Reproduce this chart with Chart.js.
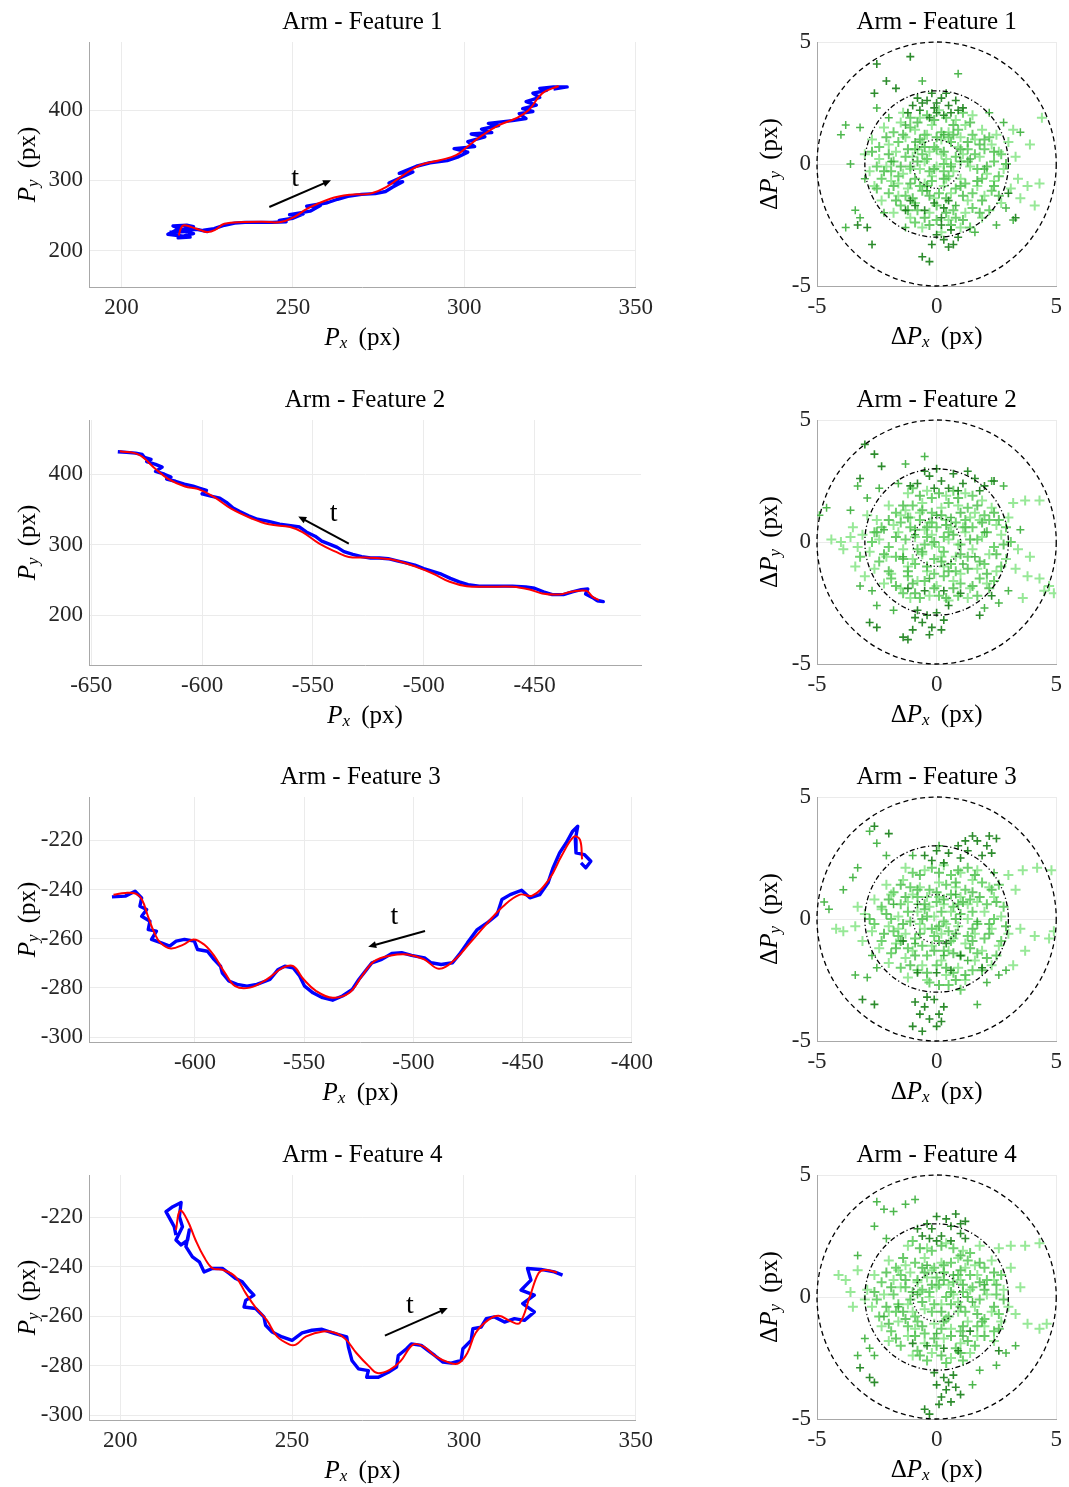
<!DOCTYPE html>
<html>
<head>
<meta charset="utf-8">
<title>Arm features - tracked trajectories</title>
<script src="https://cdn.jsdelivr.net/npm/chart.js@4.4.1/dist/chart.umd.min.js"></script>
<style>
  body { margin: 0; background: #fff; width: 1069px; height: 1487px; position: relative; overflow: hidden; }
  canvas { position: absolute; }
</style>
</head>
<body>
<canvas id="traj1" width="660" height="360" style="left:0;top:0"></canvas>
<canvas id="err1" width="329" height="360" style="left:740px;top:0"></canvas>
<canvas id="traj2" width="660" height="360" style="left:0;top:378px"></canvas>
<canvas id="err2" width="329" height="360" style="left:740px;top:378px"></canvas>
<canvas id="traj3" width="660" height="360" style="left:0;top:755px"></canvas>
<canvas id="err3" width="329" height="360" style="left:740px;top:755px"></canvas>
<canvas id="traj4" width="660" height="360" style="left:0;top:1133px"></canvas>
<canvas id="err4" width="329" height="360" style="left:740px;top:1133px"></canvas>
<script>
/* ------------------------------------------------------------
   DATA — feature tracks (raw = blue, filtered = red)
------------------------------------------------------------ */
const titles = ["Arm - Feature 1", "Arm - Feature 2", "Arm - Feature 3", "Arm - Feature 4"];

// Feature 1
const f1Raw = [[214,226],[219,227],[216,229],[213.5,223],[217,221],[220,219],[216.5,218],[219,222],[221,224],[217,231],[215,235],[219,236],[221,234],[218,230],
  [222,230],[225,227],[224,229],[227,231],[230,236],[233,239],[236,240],[240,240],[244,240],[248,241],[246,243],[250,246],[253,252],[249,251],[255,256],
  [258,264],[254,263],[260,268],[263,273],[266,277],[270,280],[274,281],[277,284],[279,290],[282,298],[278,296],[282,305],[285,312],[281,310],[286,320],
  [290,325],[295,328],[298,333],[301,340],[297,345],[303,348],[301,355],[306,362],[302,366],[308,368],[305,373],[310,378],[307,381],[314,385],[318,388],
  [316,395],[320,398],[317,402],[321,407],[318,412],[322,418],[320,424],[324,428],[322,431],[326,433],[330,433],[326,430]];
const f1Fit = [[216.7,221.4],[217.2,230],[218,235.7],[220.4,233.3],[223,229],[225.2,226.2],[227.5,230],[230,238.1],[235.8,240.5],[241,241],[246.4,240.5],
  [250.3,247.6],[254.2,259.5],[260.9,273.8],[266.7,279.5],[272.5,281],[277.3,290.5],[282.1,307.1],[287,321.4],[292.8,328.6],[297.6,335.7],[301.4,350],
  [305.3,364.3],[310.1,378.6],[315,388.1],[318.8,400],[322.7,423.8],[327.5,434.3]];
const f1XTicks = [200, 250, 300, 350];
const f1YTicks = [200, 300, 400];
const f1XRange = [190.5, 350];
const f1YRange = [148, 497];
const f1Arrow = [[243.1, 261.9], [261.1, 300]];
const f1TLabel = [250.6, 303];

// Feature 2
const f2Raw = [[-638,432],[-634,431],[-630,430],[-627,428],[-626,424],[-623,421],[-625,418],[-621,414],[-618,410],[-621,404],[-617,400],[-614,396],
  [-616,393],[-612,390],[-608,386],[-604,383],[-601,380],[-598,377],[-600,372],[-596,369],[-592,366],[-589,360],[-586,352],[-583,347],[-579,341],
  [-575,336],[-570,333],[-565,329],[-560,327],[-556,325],[-553,318],[-549,312],[-546,305],[-542,300],[-539,296],[-536,290],[-532,286],[-528,283],
  [-524,281],[-520,281],[-516,280],[-512,277],[-508,274],[-504,271],[-500,266],[-496,262],[-492,258],[-488,252],[-484,247],[-480,243],[-475,241],
  [-468,241],[-460,241],[-454,240],[-450,238],[-446,233],[-442,229],[-437,229],[-433,233],[-429,236],[-426,237],[-427,230],[-424,225],[-422,221],
  [-419,219],[-422,220]];
const f2Fit = [[-637.1,432.5],[-628.6,427.8],[-621,407.5],[-615.3,393.4],[-607.7,382.5],[-602,379.2],[-594.5,367.5],[-586.9,351],[-577.4,336.8],
  [-569.8,328.8],[-560.3,325],[-554.7,317.9],[-547.1,301.4],[-539.5,289.6],[-533.8,282.5],[-526.2,281.6],[-518.7,280.2],[-513,277.8],[-503.5,268.4],
  [-495.9,259],[-488.3,247.2],[-480.7,241],[-471.3,240.1],[-459.9,240.1],[-452.3,236.3],[-446.6,230.7],[-439,229.2],[-433.4,233],[-426.7,234.4],
  [-423.9,226],[-421,221.2]];
const f2XTicks = [-650, -600, -550, -500, -450];
const f2YTicks = [200, 300, 400];
const f2XRange = [-651, -402];
const f2YRange = [129, 477];
const f2Arrow = [[-533.8, 301.4], [-556.6, 340.1]];
const f2TLabel = [-540.6, 344.4];

// Feature 3
const f3Raw = [[-638,-243],[-631.9,-242.7],[-627.4,-240.7],[-624.4,-243.4],[-625.2,-246.8],[-622.1,-248.1],[-624.4,-250.9],[-620.6,-252.9],
  [-621.4,-256.3],[-617.6,-256.9],[-619.9,-260.3],[-615.4,-261.7],[-611.6,-263],[-608.6,-261],[-604.8,-260.3],[-600.3,-261],[-598.8,-264.4],
  [-594.3,-265.1],[-591.3,-268.4],[-588.3,-271.2],[-587.5,-273.9],[-584.5,-277.2],[-580.7,-278.6],[-576.2,-279.3],[-571.7,-278.6],[-565.7,-276.6],
  [-561.9,-272.5],[-558.9,-271.2],[-555.1,-271.8],[-552.1,-275.2],[-549.8,-279.3],[-546,-282],[-541.6,-284],[-537,-285],[-532.5,-283.3],[-528,-280.6],
  [-525,-276.6],[-522,-273.2],[-519,-269.8],[-514.5,-268.4],[-509.9,-266],[-505.4,-265.7],[-500.9,-266.8],[-494.9,-267.8],[-491.9,-269.8],
  [-487.3,-270.5],[-482.1,-269.8],[-479,-266.4],[-475.3,-261.7],[-470.8,-256.3],[-466.3,-253.6],[-461.7,-250.2],[-459.5,-244.1],[-455.7,-242.1],
  [-450.5,-240.3],[-446.7,-243.4],[-442.2,-242.1],[-438.4,-237.3],[-436.1,-231.2],[-433.1,-225.1],[-430.1,-221.1],[-427.1,-216.3],[-424.8,-214.3],
  [-425.9,-219.7],[-425.6,-225.1],[-421.8,-225.8],[-418.8,-228.5],[-421.1,-231.2],[-423.3,-229.2]];
const f3Fit = [[-637.3,-242.1],[-631.9,-241.4],[-627.2,-241.7],[-624.3,-244.1],[-621.5,-250.9],[-618.6,-257.6],[-615.8,-261.7],[-611,-264],
  [-605.3,-262.4],[-600.6,-260.3],[-595.8,-262.4],[-591.1,-267.1],[-586.3,-273.9],[-581.6,-279.3],[-574.9,-279.9],[-567.3,-276.6],[-559.7,-271.8],
  [-555,-271.2],[-550.2,-276.6],[-544.5,-281.3],[-536.9,-284],[-529.3,-282],[-523.6,-275.2],[-517.9,-269.1],[-510.3,-266.8],[-502.7,-266.4],
  [-495.1,-268.4],[-488.4,-272.2],[-481.8,-269.1],[-474.1,-261.7],[-466.7,-254.2],[-458.9,-246.8],[-451.3,-242.1],[-445.6,-242.5],[-438,-236],
  [-432.3,-226.5],[-426.6,-218.6],[-423.8,-219.7],[-422.8,-227.8]];
const f3XTicks = [-600, -550, -500, -450, -400];
const f3YTicks = [-300, -280, -260, -240, -220];
const f3XRange = [-648.5, -400];
const f3YRange = [-302, -202.4];
const f3Arrow = [[-494.7, -256.9], [-520.7, -263.3]];
const f3TLabel = [-508.7, -251];

// Feature 4
const f4Raw = [[216.2,-227.2],[215.7,-223.8],[213.3,-217.7],[215.3,-215.7],[217.7,-214],[217.2,-219.7],[218.1,-223.8],[216.2,-229.2],[217.7,-231.2],
  [219.6,-229.2],[220.1,-225.1],[219.1,-231.9],[221,-236],[223,-238],[224.4,-242.1],[226.8,-240.7],[229.7,-240.7],[231.7,-242.7],[233.6,-244.8],
  [235.5,-246.1],[237.5,-249.5],[238.9,-251.5],[236.5,-253.6],[236,-256.3],[239.4,-256.9],[241.8,-260.3],[242.3,-263.7],[244.2,-266.4],[247.1,-268.4],
  [250,-269.8],[252.9,-266.8],[255.8,-265.7],[258.7,-265.3],[262.5,-267.1],[265.9,-268.4],[266.4,-272.5],[267.4,-277.9],[269.3,-281.3],[272.2,-282],
  [271.7,-284.7],[275.1,-284.7],[278,-282.7],[280.4,-280.6],[280.9,-275.9],[283.3,-273.2],[284.7,-271.2],[287.6,-271.8],[289.6,-273.9],[291.5,-275.9],
  [293.9,-278.6],[296.3,-279],[299.2,-277.9],[299.7,-273.2],[302.1,-269.8],[302.6,-265.1],[305,-264.4],[306.5,-261],[308.9,-260.3],[311.8,-262.4],
  [314.7,-261],[317.6,-261.7],[320.5,-258.3],[317.1,-254.9],[320.5,-251.5],[316.6,-249.5],[319.5,-245.4],[318.5,-240.7],[322.4,-241.1],[326.3,-242.1],
  [328.7,-243.4]];
const f4Fit = [[216.2,-225.1],[217.4,-217.3],[219.5,-221.1],[221.9,-229.2],[224.3,-235.9],[226.8,-240.6],[229.8,-241.3],[233.5,-244],[236.5,-250.7],
  [239.5,-256.7],[242.6,-261.5],[245.6,-268.2],[249.3,-271.5],[251.1,-271.5],[254.1,-268.2],[259,-266.2],[262.7,-266.8],[265.7,-269.5],[268.7,-274.9],
  [272.4,-280.3],[274.8,-283],[278.5,-281.6],[281.5,-278.3],[285.2,-271.5],[288.2,-272.2],[291.8,-276.3],[296.1,-279],[298.5,-279],[301,-274.9],
  [303.4,-266.8],[307.1,-261.5],[310.1,-259.8],[313.7,-262.1],[316.2,-262.8],[319.2,-252],[321.7,-242.6],[323.5,-241.3],[327.1,-242.3]];
const f4XTicks = [200, 250, 300, 350];
const f4YTicks = [-300, -280, -260, -240, -220];
const f4XRange = [190.9, 350];
const f4YRange = [-302, -202.9];
const f4Arrow = [[277, -267.9], [295.3, -256.7]];
const f4TLabel = [284.3, -255.8];

/* ------------------------------------------------------------
   DATA — tracking error (raw minus filtered)
------------------------------------------------------------ */
const errTicks = [-5, 0, 5];
const errRange = [-5, 5];
const errCircles = [1, 3, 5];

const e1Light = [[-1.4,2.1],[-0.7,1.9],[0.1,2.2],[0.8,1.8],[1.5,2.0],[-2.2,1.5],[-1.5,1.7],[-0.9,1.4],[-0.2,1.6],[0.5,1.3],[1.2,1.6],[1.9,1.4],[2.5,1.2],
  [-2.7,1.0],[-2.0,0.8],[-1.3,1.1],[-0.6,0.9],[0.2,1.0],[0.9,0.7],[1.6,1.0],[2.3,0.8],[3.0,0.9],[-3.0,0.4],[-2.4,0.2],[-1.7,0.5],[-1.0,0.3],[-0.3,0.5],
  [0.4,0.2],[1.1,0.4],[1.8,0.3],[2.6,0.5],[-2.8,-0.3],[-2.1,-0.1],[-1.4,-0.4],[-0.7,-0.2],[0.0,-0.1],[0.7,-0.3],[1.4,-0.1],[2.1,-0.4],[2.8,-0.2],
  [-2.6,-0.9],[-1.9,-0.7],[-1.2,-1.0],[-0.5,-0.8],[0.3,-0.9],[1.0,-0.6],[1.7,-0.9],[2.4,-0.7],[3.1,-1.0],[-2.3,-1.5],[-1.6,-1.3],[-0.9,-1.6],
  [-0.1,-1.4],[0.6,-1.2],[1.3,-1.5],[2.0,-1.3],[2.7,-1.6],[-1.8,-2.0],[-1.1,-2.2],[-0.3,-2.0],[0.5,-2.3],[1.2,-2.0],[1.9,-2.2],[-0.6,-2.6],[0.2,-2.8],
  [1.0,-2.6],[-0.5,0.1],[0.2,0.4],[-0.2,-0.5],[0.6,0.0],[-1.1,-0.2],[-0.8,0.6],[0.4,-0.6],[1.0,1.1],[-1.6,-0.8],[-0.4,1.2],[3.4,-0.6],[3.8,-0.9],
  [4.3,-0.8],[3.5,-1.4],[4.1,-1.7],[3.3,0.3],[3.9,0.8],[3.2,1.4],[4.4,1.9]];
const e1Core = [[-1.1,1.9],[-0.4,2.0],[0.4,1.9],[1.1,2.1],[-1.8,1.3],[-1.1,1.5],[-0.5,1.2],[0.2,1.3],[0.9,1.4],[1.5,1.2],[2.2,1.1],[-2.4,0.7],
  [-1.6,0.9],[-0.9,0.6],[-0.1,0.7],[0.6,0.9],[1.3,0.6],[2.0,0.6],[2.7,0.4],[-2.5,-0.1],[-1.8,0.1],[-1.1,-0.1],[-0.4,0.2],[0.3,0.0],[1.0,0.1],
  [1.7,-0.2],[2.4,0.1],[-2.3,-0.6],[-1.6,-0.5],[-0.9,-0.6],[-0.2,-0.7],[0.5,-0.5],[1.2,-0.8],[1.9,-0.6],[2.6,-0.5],[-2.0,-1.2],[-1.3,-1.3],
  [-0.6,-1.1],[0.1,-1.2],[0.8,-1.0],[1.5,-1.2],[2.3,-1.1],[-1.5,-1.7],[-0.8,-1.9],[0.0,-1.7],[0.7,-1.9],[1.5,-1.8],[2.2,-1.9],[-0.9,-2.4],
  [0.0,-2.3],[0.8,-2.2],[1.4,-2.6],[-0.6,0.4],[0.0,0.6],[-0.3,-0.3],[0.3,-0.3],[0.8,0.3],[-1.3,0.3],[-0.7,-0.9],[0.5,1.1],[1.6,0.4],[-1.9,-0.3]];
const e1Fill = [[-0.8,1.7],[-0.1,1.8],[0.7,1.6],[1.4,1.7],[-2.1,1.1],[-1.4,1.2],[-0.7,1.0],[0.0,1.1],[0.7,1.2],[1.3,0.9],[2.0,1.0],[-2.7,0.5],
  [-2.0,0.4],[-1.2,0.6],[-0.5,0.7],[0.3,0.5],[1.0,0.6],[1.8,0.8],[2.4,0.5],[-2.2,-0.3],[-1.5,-0.1],[-0.8,0.1],[-0.1,-0.2],[0.6,-0.1],[1.3,0.1],
  [2.1,-0.1],[2.9,0.0],[-2.5,-1.0],[-1.8,-0.9],[-1.1,-0.8],[-0.4,-0.9],[0.3,-0.6],[1.0,-0.9],[1.7,-0.7],[2.4,-0.9],[-1.7,-1.5],[-1.0,-1.4],
  [-0.3,-1.3],[0.4,-1.4],[1.1,-1.3],[1.9,-1.5],[2.6,-1.3],[-1.2,-1.9],[-0.5,-2.2],[0.4,-2.0],[1.1,-2.3],[1.8,-2.0],[-0.3,-2.5],[0.6,-2.5]];
const e1Mid = [[-2.5,2.3],[-3.2,1.5],[-3.8,1.6],[-4.0,1.2],[-3.6,0.0],[-3.0,-0.6],[-2.0,1.9],[2.2,2.1],[2.8,1.7],[3.5,1.3],[2.9,-1.8],[3.2,-2.3],
  [2.5,-2.5],[1.6,-2.8],[-1.3,-2.6],[-2.2,-2.0],[-3.4,-1.9],[-3.2,-2.2],[-3.8,-2.6],[-0.9,0.9],[0.3,1.2],[1.4,0.2],[-1.9,0.1],[-0.4,-1.1],[0.8,-1.7],
  [-1.3,1.6],[2.0,-0.2],[-0.6,3.4],[0.9,3.7]];
const e1Dark = [[-1.0,2.4],[-0.7,2.2],[-0.4,2.6],[-0.1,2.3],[0.2,2.7],[0.5,2.4],[0.8,2.6],[0.3,2.0],[-0.3,1.9],[-0.8,2.7],[1.1,2.3],[0.0,2.5],
  [-0.6,2.5],[0.0,2.1],[0.6,2.1],[0.9,2.2],[-0.2,2.9],[0.4,2.9],[-1.2,2.1],
  [-0.9,-1.7],[-0.5,-1.9],[-0.1,-1.6],[0.3,-1.8],[-1.3,-1.9],[-1.1,-1.5],[0.5,-1.5],[0.2,-2.2],[0.0,-2.9],[0.3,-3.1],[0.6,-2.7],[0.9,-3.0],
  [0.2,-2.5],[-0.2,-3.3],[0.5,-3.4],[0.7,-3.3],[-0.6,-3.8],[-0.3,-4.0],[-2.5,4.1],[-2.1,3.4],[-1.7,3.1],[-2.6,2.9],[-1.1,4.4],[-2.9,-2.6],
  [-2.7,-3.3],[-3.3,-2.5],[3.3,-2.2],[3.0,-1.2]];

const e2Light = [[-1.2,2.0],[-0.4,2.1],[0.4,1.9],[1.2,2.0],[1.9,1.7],[-2.0,1.5],[-1.3,1.3],[-0.6,1.6],[0.2,1.4],[0.9,1.5],[1.6,1.2],[2.3,1.4],
  [-2.5,0.9],[-1.8,0.7],[-1.1,1.0],[-0.3,0.8],[0.4,0.9],[1.1,0.6],[1.8,0.9],[2.5,0.7],[-3.1,0.3],[-2.4,0.1],[-1.6,0.4],[-0.9,0.2],[-0.2,0.3],
  [0.5,0.1],[1.2,0.4],[1.9,0.2],[2.7,0.3],[-2.8,-0.4],[-2.1,-0.6],[-1.4,-0.3],[-0.6,-0.5],[0.1,-0.2],[0.8,-0.6],[1.5,-0.3],[2.2,-0.5],[2.9,-0.7],
  [-2.6,-1.1],[-1.9,-1.3],[-1.2,-1.0],[-0.4,-1.2],[0.3,-1.0],[1.0,-1.3],[1.7,-1.1],[2.5,-1.2],[-2.2,-1.7],[-1.5,-1.9],[-0.8,-1.6],[0.0,-1.8],
  [0.7,-1.6],[1.4,-1.9],[2.1,-1.7],[-1.1,-2.3],[-0.3,-2.2],[0.5,-2.4],[1.3,-2.3],[-0.5,0.5],[0.2,-0.6],[0.6,0.6],[-0.2,-0.1],[-1.0,-0.7],[1.4,1.0],
  [-1.5,1.1],[0.9,-0.1],[-0.7,1.2],[-3.6,0.2],[-4.0,0.0],[-4.4,0.1],[-3.9,-0.3],[-3.3,-0.2],[-3.5,0.6],[-2.9,1.1],[-3.4,-1.0],[-3.0,-1.4],
  [3.2,1.6],[3.7,1.7],[4.3,1.7],[3.0,1.0],[3.4,-0.3],[3.9,-0.6],[3.3,-1.1],[3.8,-1.4],[4.3,-1.5],[4.7,-1.8],[4.9,-2.1],[4.5,-2.0],[3.6,-2.3]];
const e2Core = [[-1.0,2.2],[-0.2,1.8],[0.7,2.1],[1.5,1.9],[-1.7,1.2],[-1.0,1.5],[-0.2,1.2],[0.5,1.6],[1.3,1.4],[2.0,1.1],[-2.3,0.6],[-1.5,0.8],
  [-0.7,0.9],[0.0,0.6],[0.8,0.8],[1.5,0.6],[2.2,0.9],[2.9,0.6],[-2.7,0.0],[-2.0,-0.2],[-1.3,0.1],[-0.5,-0.1],[0.3,0.2],[1.0,-0.1],[1.7,0.1],
  [2.4,-0.2],[3.1,0.0],[-2.4,-0.8],[-1.7,-0.6],[-0.9,-0.9],[-0.1,-0.7],[0.6,-0.9],[1.3,-0.6],[2.0,-0.9],[2.7,-1.0],[-1.9,-1.5],[-1.2,-1.4],
  [-0.5,-1.6],[0.3,-1.4],[1.0,-1.7],[1.8,-1.5],[2.4,-1.6],[-1.4,-2.1],[-0.7,-2.3],[0.1,-2.2],[0.9,-2.2],[1.7,-2.2],[-0.4,0.2],[0.3,-0.4],
  [-0.2,0.8],[0.5,0.4],[-0.8,-0.3],[1.2,0.9],[-1.1,0.6],[0.8,-1.2],[-0.1,-1.3],[-2.6,0.4],[-3.2,-0.6]];
const e2Fill = [[-0.7,1.9],[0.1,2.0],[0.9,1.8],[-1.4,1.5],[-0.6,1.3],[0.2,1.1],[1.0,1.2],[1.7,1.5],[2.4,1.2],[-2.0,0.9],[-1.2,1.0],[-0.4,0.6],
  [0.4,0.7],[1.2,0.6],[1.9,0.8],[2.6,0.9],[-2.5,0.4],[-1.7,0.2],[-0.9,0.5],[-0.1,0.0],[0.7,0.3],[1.4,0.1],[2.1,0.4],[2.8,-0.1],[-2.2,-0.5],
  [-1.4,-0.7],[-0.6,-0.4],[0.2,-0.8],[1.0,-0.5],[1.8,-0.8],[2.5,-0.5],[-2.0,-1.2],[-1.2,-1.2],[-0.4,-1.0],[0.5,-1.2],[1.3,-1.1],[2.1,-1.3],
  [-1.7,-1.8],[-1.0,-1.7],[-0.1,-1.9],[0.7,-1.9],[1.5,-1.8],[2.2,-1.9],[-0.9,-2.1],[0.4,-2.3]];
const e2Mid = [[-1.6,2.4],[-2.4,2.2],[-2.9,1.8],[-3.3,2.3],[-4.6,1.4],[-4.9,1.1],[-3.6,1.3],[-3.2,-1.8],[-2.7,-2.0],[-2.5,-2.6],[-1.8,-2.8],
  [2.0,-2.7],[2.6,-2.5],[3.0,-2.0],[2.8,2.3],[2.3,2.5],[-0.9,0.3],[0.6,1.0],[1.6,-0.6],[-1.4,-0.6],[0.0,1.1],[-0.3,-1.5],[1.1,-0.9],[-2.2,0.5],
  [2.0,0.4],[3.5,0.5],[-0.5,3.5],[-1.3,3.2]];
const e2Dark = [[-0.8,2.4],[-0.3,2.7],[0.2,2.5],[0.7,2.8],[1.1,2.4],[1.6,2.6],[2.0,2.3],[2.4,2.5],[-0.1,2.2],[0.5,2.2],[1.3,2.9],[-0.5,2.9],
  [0.9,2.1],[1.8,2.1],[-1.1,2.3],[0.0,3.0],
  [-0.8,-2.8],[-0.4,-3.0],[0.0,-2.9],[-0.6,-3.3],[-0.2,-3.5],[0.3,-3.2],[-1.0,-3.6],[-0.3,-3.8],[0.2,-3.6],[-1.4,-3.9],[-1.2,-4.0],[-0.5,-2.0],
  [0.3,-2.0],[1.0,-2.1],[-1.2,-1.9],[-0.9,-3.1],[0.5,-2.6],[-3.0,4.0],[-2.6,3.6],[-2.3,3.1],[-3.2,2.6],[-2.8,-3.3],[-2.5,-3.5],[1.8,-3.0],[2.3,-2.2]];

const e3Light = [[-1.3,2.1],[-0.5,2.0],[0.3,2.2],[1.0,1.9],[1.7,2.0],[-2.1,1.4],[-1.4,1.6],[-0.7,1.3],[0.1,1.5],[0.8,1.3],[1.5,1.6],[2.2,1.3],
  [-2.6,0.8],[-1.9,1.0],[-1.2,0.7],[-0.4,0.9],[0.3,0.6],[1.0,0.9],[1.7,0.7],[2.4,0.9],[-3.0,0.2],[-2.3,0.4],[-1.6,0.1],[-0.8,0.3],[-0.1,0.1],
  [0.6,0.3],[1.3,0.0],[2.0,0.3],[2.7,0.1],[-2.7,-0.5],[-2.0,-0.3],[-1.3,-0.6],[-0.5,-0.4],[0.2,-0.6],[0.9,-0.3],[1.6,-0.6],[2.3,-0.4],[3.0,-0.6],
  [-2.4,-1.2],[-1.7,-1.0],[-1.0,-1.3],[-0.2,-1.1],[0.5,-1.3],[1.2,-1.0],[1.9,-1.3],[2.6,-1.1],[-2.0,-1.8],[-1.3,-1.6],[-0.6,-1.9],[0.2,-1.7],
  [0.9,-2.0],[1.6,-1.7],[2.3,-1.9],[-1.2,-2.4],[-0.4,-2.5],[0.4,-2.3],[1.2,-2.5],[-0.3,0.5],[0.4,-0.2],[-0.7,-0.2],[0.1,0.9],[-1.0,1.0],[1.3,0.6],
  [-1.6,-0.4],[0.7,-0.8],[0.0,-0.4],[-3.4,-0.3],[-3.9,-0.5],[-4.2,-0.4],[-3.1,-0.9],[-3.3,0.5],[3.0,1.8],[3.6,2.0],[4.2,2.1],[4.8,2.0],[3.3,1.2],
  [3.5,-0.4],[4.1,-0.7],[4.7,-0.8],[4.9,-0.5],[3.7,-1.3],[3.2,-1.9]];
const e3Core = [[-1.0,1.9],[-0.2,2.1],[0.6,1.8],[1.3,2.1],[-1.8,1.1],[-1.1,1.3],[-0.3,1.2],[0.4,1.4],[1.2,1.2],[1.9,1.5],[2.6,1.4],[-2.3,0.5],
  [-1.5,0.6],[-0.8,0.9],[0.0,0.7],[0.7,0.5],[1.4,0.8],[2.1,0.6],[2.8,0.5],[-2.6,-0.2],[-1.9,0.0],[-1.1,-0.1],[-0.4,0.1],[0.3,-0.1],[1.0,0.2],
  [1.7,-0.2],[2.4,0.0],[-2.3,-0.9],[-1.6,-0.7],[-0.9,-0.8],[-0.1,-0.7],[0.6,-0.9],[1.3,-0.7],[2.0,-0.8],[2.7,-0.9],[-1.9,-1.4],[-1.2,-1.2],
  [-0.4,-1.5],[0.3,-1.3],[1.0,-1.5],[1.7,-1.4],[2.5,-1.5],[-1.5,-2.0],[-0.8,-2.1],[0.0,-1.9],[0.7,-2.2],[1.5,-2.1],[-0.3,-2.6],[0.5,-2.7],
  [1.0,-2.9],[-0.5,0.4],[0.2,0.3],[-0.2,-0.4],[0.5,-0.5],[0.9,0.6],[-1.2,0.3],[-0.6,-1.1],[0.6,1.0],[1.5,0.3],[-1.8,-0.5]];
const e3Fill = [[-0.7,1.8],[0.1,1.9],[0.9,2.0],[1.6,1.8],[-1.5,1.4],[-0.8,1.2],[0.0,1.1],[0.8,1.5],[1.5,1.1],[2.3,1.2],[-2.0,0.8],[-1.3,0.9],
  [-0.5,0.6],[0.3,0.8],[1.1,0.7],[1.8,0.9],[2.5,0.7],[-2.8,0.0],[-2.1,0.2],[-1.4,-0.2],[-0.6,0.0],[0.1,-0.3],[0.8,0.0],[1.5,-0.4],[2.2,-0.2],
  [2.9,-0.3],[-2.2,-0.6],[-1.5,-0.9],[-0.7,-0.6],[0.1,-0.9],[0.8,-0.6],[1.5,-0.9],[2.2,-0.6],[-1.7,-1.2],[-0.9,-1.5],[-0.1,-1.3],[0.7,-1.4],
  [1.4,-1.2],[2.1,-1.6],[-1.1,-1.9],[-0.4,-2.2],[0.4,-2.0],[1.2,-2.3],[1.9,-2.1],[0.1,-2.7],[0.8,-2.5]];
const e3Mid = [[-2.8,3.6],[-2.5,3.1],[-3.3,2.1],[-3.5,1.7],[-3.9,1.2],[-4.7,0.7],[-4.5,0.4],[-2.1,2.6],[-3.4,-2.3],[-2.9,-2.4],[-2.5,-2.0],
  [-2.7,-1.5],[2.6,-2.3],[2.1,-2.6],[1.7,-3.5],[2.9,-2.1],[-0.8,0.6],[0.8,1.0],[1.7,-0.1],[-1.8,0.6],[0.3,-1.5],[-0.9,-1.0],[1.3,-1.7],[2.4,1.9],
  [0.1,3.0],[-1.0,2.6]];
const e3Dark = [[0.5,2.7],[0.9,3.0],[1.3,2.8],[1.7,3.2],[2.1,3.0],[2.5,3.3],[1.5,3.4],[2.3,2.7],[1.0,2.5],[1.9,2.6],[1.2,3.2],[2.2,3.4],
  [-0.5,2.6],[0.0,2.8],[-0.2,2.4],[0.3,2.3],
  [-0.9,-3.4],[-0.5,-3.6],[-0.1,-3.3],[0.3,-3.6],[-0.7,-3.9],[-0.3,-4.1],[0.1,-3.9],[-1.0,-4.4],[-0.6,-4.6],[0.2,-4.2],[-0.4,-3.2],[0.0,-4.4],
  [0.0,-2.2],[0.6,-2.1],[-0.8,-2.2],[1.0,-1.5],[0.4,-1.0],[-1.4,-0.9],[-2.6,3.8],[-2.0,3.5],[-3.1,-3.3],[-2.6,-3.5],[1.9,-2.0]];

const e4Light = [[-1.2,2.1],[-0.4,2.0],[0.4,2.2],[1.1,1.9],[1.8,2.1],[-2.0,1.5],[-1.3,1.3],[-0.5,1.6],[0.2,1.4],[0.9,1.6],[1.6,1.3],[2.3,1.5],
  [-2.6,0.9],[-1.8,0.7],[-1.1,1.0],[-0.4,0.8],[0.3,1.0],[1.0,0.7],[1.7,0.9],[2.4,0.7],[-2.9,0.3],[-2.2,0.1],[-1.5,0.4],[-0.7,0.2],[0.0,0.4],
  [0.7,0.1],[1.4,0.3],[2.1,0.1],[2.8,0.3],[-2.7,-0.4],[-2.0,-0.6],[-1.2,-0.3],[-0.5,-0.5],[0.2,-0.3],[0.9,-0.6],[1.6,-0.4],[2.3,-0.6],[3.0,-0.4],
  [-2.3,-1.2],[-1.6,-1.0],[-0.9,-1.3],[-0.1,-1.1],[0.6,-1.3],[1.3,-1.0],[2.0,-1.2],[2.7,-1.0],[-2.0,-1.8],[-1.2,-1.6],[-0.5,-1.9],[0.3,-1.7],
  [1.0,-1.9],[1.7,-1.6],[2.4,-1.8],[-1.0,-2.4],[-0.2,-2.3],[0.6,-2.5],[1.4,-2.3],[-0.3,0.0],[0.5,0.5],[-0.8,0.6],[0.4,-0.9],[-1.0,-0.6],[1.2,1.2],
  [-1.6,1.1],[0.9,-0.2],[-0.2,1.1],[-3.3,1.1],[-3.8,0.7],[-4.1,0.9],[-3.5,-0.4],[-3.0,-0.1],[-3.6,0.2],[2.6,2.0],[3.1,2.1],[3.7,2.1],[4.3,2.2],
  [3.3,-0.7],[3.8,-1.1],[4.3,-1.3],[4.6,-1.1],[3.1,1.2],[3.5,0.4]];
const e4Core = [[-1.0,2.3],[-0.2,1.9],[0.7,2.0],[1.4,1.8],[-1.7,1.2],[-0.9,1.4],[-0.1,1.2],[0.6,1.4],[1.3,1.5],[2.0,1.2],[-2.3,0.6],[-1.5,0.9],
  [-0.8,0.7],[0.0,0.8],[0.7,0.6],[1.4,0.9],[2.1,0.7],[2.7,0.9],[-2.5,-0.1],[-1.8,0.1],[-1.1,-0.1],[-0.3,0.2],[0.4,0.0],[1.1,0.2],[1.8,-0.1],
  [2.5,0.1],[-2.4,-0.8],[-1.7,-0.6],[-0.9,-0.8],[-0.2,-0.6],[0.5,-0.8],[1.2,-0.6],[2.0,-0.9],[2.6,-0.7],[-1.9,-1.4],[-1.2,-1.2],[-0.5,-1.5],
  [0.2,-1.3],[1.0,-1.4],[1.7,-1.2],[2.4,-1.4],[-1.5,-2.0],[-0.8,-2.2],[0.0,-2.0],[0.8,-2.1],[1.6,-2.0],[-0.4,-2.6],[0.4,-2.7],[1.1,-2.6],
  [-0.6,0.3],[0.1,0.5],[-0.1,-0.3],[0.6,-0.3],[0.9,0.9],[-1.3,0.4],[-0.8,-1.0],[0.3,1.0],[1.5,0.4],[-1.6,-0.3]];
const e4Fill = [[-0.7,2.0],[0.2,2.1],[1.0,1.7],[-1.4,1.6],[-0.6,1.2],[0.3,1.3],[1.0,1.1],[1.8,1.4],[2.4,1.0],[-2.1,1.0],[-1.3,0.7],[-0.5,1.0],
  [0.3,0.7],[1.1,0.5],[1.8,0.6],[2.5,0.5],[-2.6,0.2],[-1.9,0.4],[-1.0,0.2],[-0.2,0.5],[0.6,0.2],[1.3,0.0],[2.0,0.3],[2.8,-0.1],[-2.1,-0.4],
  [-1.4,-0.6],[-0.6,-0.2],[0.2,-0.6],[1.0,-0.4],[1.7,-0.7],[2.4,-0.4],[-2.0,-1.1],[-1.3,-0.9],[-0.6,-1.2],[0.3,-1.0],[1.1,-1.2],[1.9,-1.0],
  [2.6,-1.3],[-1.7,-1.7],[-0.9,-1.6],[-0.1,-1.7],[0.6,-1.6],[1.3,-1.8],[2.0,-1.6],[-0.7,-2.4],[0.2,-2.4],[1.0,-2.3]];
const e4Mid = [[-2.5,3.9],[-2.2,3.6],[-1.8,3.5],[-1.3,3.8],[-0.9,4.0],[-2.6,2.9],[-2.1,2.4],[-3.3,1.7],[-3.0,-1.7],[-2.8,-2.1],[-2.6,-2.4],
  [-3.3,-2.4],[2.9,-2.3],[3.3,-2.0],[2.5,-2.8],[1.8,-3.0],[1.5,-3.6],[-0.8,0.1],[0.7,0.9],[1.5,-0.2],[-1.6,-0.4],[0.0,-1.5],[-0.4,1.3],[1.1,-1.6],
  [2.0,0.5],[-2.2,-0.8]];
const e4Dark = [[-0.6,2.5],[-0.2,2.8],[0.2,2.5],[0.6,2.9],[1.0,2.6],[0.4,3.2],[0.8,3.4],[1.2,3.1],[-0.4,3.0],[0.0,2.3],[1.2,2.4],[-0.8,2.8],
  [0.0,3.3],[0.6,2.3],[-0.3,2.4],[1.0,3.0],
  [-0.1,-3.1],[0.3,-3.3],[0.7,-3.2],[0.0,-3.6],[0.4,-3.8],[0.8,-3.7],[0.2,-4.1],[0.6,-4.3],[1.0,-4.0],[-0.5,-4.6],[-0.3,-4.8],[0.5,-3.5],
  [0.1,-4.4],[-0.4,-2.0],[0.3,-2.1],[-1.0,-1.9],[0.9,-2.2],[1.4,-1.4],[-2.8,-3.3],[-2.6,-3.5],[-3.2,-2.9],[2.6,-2.2]];

/* ------------------------------------------------------------
   STYLE
------------------------------------------------------------ */
const FONT = "'Liberation Serif', 'DejaVu Serif', serif";
const INK = "#262626";
const GREENS = ["rgba(140,230,140,0.9)", "rgba(96,205,96,0.9)", "rgba(78,192,78,0.85)", "rgba(58,175,58,0.9)", "rgba(22,128,22,0.9)"];

const toXY = arr => arr.map(([x, y]) => ({ x, y }));

/* ------------------------------------------------------------
   TEXT HELPERS — "P_x (px)" style labels with italic + subscript
------------------------------------------------------------ */
function axisLabel(delta, sub) {
  const parts = [];
  if (delta) parts.push({ t: "\u0394", font: `25px ${FONT}`, dy: 0 });
  parts.push({ t: "P", font: `italic 25px ${FONT}`, dy: 0 });
  parts.push({ t: sub, font: `italic 17px ${FONT}`, dy: 6 });
  parts.push({ t: " \u2009(px)", font: `25px ${FONT}`, dy: 0 });
  return parts;
}

function drawParts(ctx, parts, cx, cy, angle) {
  let total = 0;
  parts.forEach(p => { ctx.font = p.font; p.w = ctx.measureText(p.t).width; total += p.w; });
  ctx.save();
  ctx.translate(cx, cy);
  ctx.rotate(angle);
  ctx.textAlign = "left";
  ctx.textBaseline = "middle";
  let x = -total / 2;
  parts.forEach(p => {
    ctx.font = p.font;
    ctx.fillText(p.t, x, p.dy);
    x += p.w;
  });
  ctx.restore();
}

/* ------------------------------------------------------------
   PLUGINS
------------------------------------------------------------ */
const panelText = {
  id: "panelText",
  afterDraw(chart, args, o) {
    const { ctx, chartArea: a } = chart;
    ctx.save();
    ctx.fillStyle = "#000";
    ctx.textAlign = "center";
    ctx.textBaseline = "middle";
    ctx.font = `25px ${FONT}`;
    ctx.fillText(o.title, (a.left + a.right) / 2, a.top - 20);
    drawParts(ctx, axisLabel(o.delta, "x"), (a.left + a.right) / 2, a.bottom + 51, 0);
    drawParts(ctx, axisLabel(o.delta, "y"), o.yLabelX, (a.top + a.bottom) / 2, -Math.PI / 2);
    ctx.restore();
  }
};

// time-direction arrow with "t" label, placed in data coordinates
const timeArrow = {
  id: "timeArrow",
  afterDatasetsDraw(chart, args, o) {
    if (!o.from) return;
    const { ctx, scales: { x, y } } = chart;
    const x0 = x.getPixelForValue(o.from[0]), y0 = y.getPixelForValue(o.from[1]);
    const x1 = x.getPixelForValue(o.to[0]), y1 = y.getPixelForValue(o.to[1]);
    const ang = Math.atan2(y1 - y0, x1 - x0);
    const c = Math.cos(ang), s = Math.sin(ang);
    ctx.save();
    ctx.strokeStyle = "#000";
    ctx.fillStyle = "#000";
    ctx.lineWidth = 2;
    ctx.beginPath();
    ctx.moveTo(x0, y0);
    ctx.lineTo(x1 - 4 * c, y1 - 4 * s);
    ctx.stroke();
    ctx.beginPath();
    ctx.moveTo(x1, y1);
    ctx.lineTo(x1 - 8 * c + 3.5 * s, y1 - 8 * s - 3.5 * c);
    ctx.lineTo(x1 - 8 * c - 3.5 * s, y1 - 8 * s + 3.5 * c);
    ctx.closePath();
    ctx.fill();
    ctx.font = `28px ${FONT}`;
    ctx.textAlign = "center";
    ctx.textBaseline = "middle";
    ctx.fillText("t", x.getPixelForValue(o.label[0]), y.getPixelForValue(o.label[1]));
    ctx.restore();
  }
};

// reference circles on the error plots (1, 3 and 5 px)
const errorRings = {
  id: "errorRings",
  afterDatasetsDraw(chart, args, o) {
    if (!o.radii) return;
    const { ctx, scales: { x, y } } = chart;
    const cx = x.getPixelForValue(0), cy = y.getPixelForValue(0);
    const dashes = [[1.2, 2.4], [5, 2.5, 1.2, 2.5], [5, 3.5]];
    ctx.save();
    ctx.strokeStyle = "#000";
    ctx.lineWidth = 1.3;
    o.radii.forEach((r, i) => {
      ctx.setLineDash(dashes[i]);
      ctx.beginPath();
      ctx.ellipse(cx, cy, Math.abs(x.getPixelForValue(r) - cx), Math.abs(y.getPixelForValue(r) - cy), 0, 0, Math.PI * 2);
      ctx.stroke();
    });
    ctx.restore();
  }
};

/* ------------------------------------------------------------
   AXES
------------------------------------------------------------ */
function axis(pos, range, ticks, size) {
  return {
    type: "linear",
    position: pos,
    min: range[0],
    max: range[1],
    afterBuildTicks: s => { s.ticks = ticks.map(v => ({ value: v })); },
    afterFit: s => { if (pos === "left") s.width = size; else s.height = size; },
    grid: { color: "#ebebeb", lineWidth: 1, drawTicks: false },
    border: { display: true, color: "#a8a8a8", width: 1 },
    ticks: {
      color: INK,
      font: { family: FONT, size: 23 },
      padding: pos === "left" ? 6 : 7,
      maxRotation: 0,
      autoSkip: false,
      callback: v => String(v)
    }
  };
}

function baseOptions(padRight) {
  return {
    responsive: false,
    animation: false,
    devicePixelRatio: 1,
    layout: { autoPadding: false, padding: { left: 0, right: padRight, top: 42, bottom: 0 } },
    plugins: { legend: { display: false }, tooltip: { enabled: false } }
  };
}

/* ------------------------------------------------------------
   TRAJECTORY CHART (left column)
------------------------------------------------------------ */
function trajChart(id, title, raw, fit, xr, yr, xt, yt, arrow, tPos) {
  const opts = baseOptions(19);
  opts.scales = { x: axis("bottom", xr, xt, 73), y: axis("left", yr, yt, 89) };
  opts.plugins.panelText = { title, delta: false, yLabelX: 28 };
  opts.plugins.timeArrow = { from: arrow[0], to: arrow[1], label: tPos };
  return new Chart(document.getElementById(id), {
    type: "scatter",
    data: {
      datasets: [
        { data: toXY(fit), showLine: true, borderColor: "#ff0000", borderWidth: 2, tension: 0.4, pointRadius: 0, order: 0 },
        { data: toXY(raw), showLine: true, borderColor: "#0000ff", borderWidth: 3.4, pointRadius: 0, borderJoinStyle: "round", order: 1 }
      ]
    },
    options: opts,
    plugins: [panelText, timeArrow]
  });
}

/* ------------------------------------------------------------
   ERROR SCATTER CHART (right column)
------------------------------------------------------------ */
function errChart(id, title, light, core, fill, mid, dark) {
  const opts = baseOptions(8);
  opts.scales = { x: axis("bottom", errRange, errTicks, 74), y: axis("left", errRange, errTicks, 77) };
  opts.plugins.panelText = { title, delta: true, yLabelX: 30 };
  opts.plugins.errorRings = { radii: errCircles };
  const cloud = (pts, color, order, r, w) => ({
    data: toXY(pts), pointStyle: "cross", pointRadius: r, borderWidth: w,
    borderColor: color, backgroundColor: color, order
  });
  return new Chart(document.getElementById(id), {
    type: "scatter",
    data: {
      datasets: [
        cloud(dark, GREENS[4], 0, 4, 1.6), cloud(mid, GREENS[3], 1, 4, 1.5),
        cloud(fill, GREENS[2], 2, 5, 2), cloud(core, GREENS[1], 3, 5, 2), cloud(light, GREENS[0], 4, 5, 2)
      ]
    },
    options: opts,
    plugins: [panelText, errorRings]
  });
}

trajChart("traj1", titles[0], f1Raw, f1Fit, f1XRange, f1YRange, f1XTicks, f1YTicks, f1Arrow, f1TLabel);
trajChart("traj2", titles[1], f2Raw, f2Fit, f2XRange, f2YRange, f2XTicks, f2YTicks, f2Arrow, f2TLabel);
trajChart("traj3", titles[2], f3Raw, f3Fit, f3XRange, f3YRange, f3XTicks, f3YTicks, f3Arrow, f3TLabel);
trajChart("traj4", titles[3], f4Raw, f4Fit, f4XRange, f4YRange, f4XTicks, f4YTicks, f4Arrow, f4TLabel);

errChart("err1", titles[0], e1Light, e1Core, e1Fill, e1Mid, e1Dark);
errChart("err2", titles[1], e2Light, e2Core, e2Fill, e2Mid, e2Dark);
errChart("err3", titles[2], e3Light, e3Core, e3Fill, e3Mid, e3Dark);
errChart("err4", titles[3], e4Light, e4Core, e4Fill, e4Mid, e4Dark);
</script>
</body>
</html>
